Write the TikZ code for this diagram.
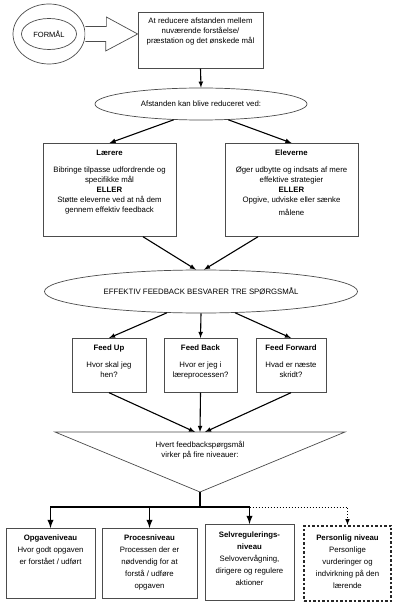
\documentclass[tikz,border=0pt]{standalone}
\usepackage{fontspec}
\setmainfont{Liberation Sans}
\usetikzlibrary{shapes.geometric,calc}

\begin{document}
\begin{tikzpicture}[x=1pt,y=-1pt,
	box/.style={draw=black!70,line width=0.7pt,align=center,inner sep=2pt,font=\fontsize{7.8}{10}\selectfont,anchor=north},
	oval/.style={ellipse,draw=black!70,line width=0.7pt,inner sep=0pt,font=\fontsize{7.8}{10}\selectfont},
	quest/.style={box,text height=37pt,text depth=13pt},
	lvl/.style={box,line width=0.9pt,font=\fontsize{7.8}{12}\selectfont},
	arr/.style={-latex,line width=1.1pt}]
	\fill[white] (0,0) rectangle (400,609);
	\useasboundingbox (0,0) rectangle (400,609);

	% formaal og maal
	\node[oval,minimum width=72pt,minimum height=60pt] (formal) at (49,34) {};
	\node[oval,minimum width=55pt,minimum height=31pt,font=\fontsize{7.5}{9}\selectfont] (formaltext) at (formal) {FORMÅL};
	\node[box,minimum width=125pt,text height=29pt,text depth=23pt] (goal) at (200.5,12) {At reducere afstanden mellem\\ nuværende forståelse/\\ præstation og det ønskede mål};
	\draw[draw=black!70,line width=0.7pt,fill=white] ($(formal.east)+(0,-7.5)$) -- ++(21,0) -- ++(0,-9.5) -- (formal.east -| goal.west) -- ++(-32,17) -- ++(0,-9.5) -- ($(formal.east)+(0,7.5)$);

	\node[oval,minimum width=212pt,minimum height=32pt] (reduce) at (201,104) {Afstanden kan blive reduceret ved:};
	\node[box,minimum width=133pt,text height=67pt,text depth=22pt] (teacher) at (109.5,143) {\textbf{Lærere}\\[7pt] Bibringe tilpasse udfordrende og\\ specifikke mål\\ \textbf{ELLER}\\ Støtte eleverne ved at nå dem\\ gennem effektiv feedback};
	\node[box,minimum width=133pt,text height=70pt,text depth=19pt] (student) at (291.5,143) {\textbf{Eleverne}\\[7pt] Øger udbytte og indsats af mere\\ effektive strategier\\ \textbf{ELLER}\\ Opgive, udviske eller sænke\\[3pt] målene};

	\node[oval,minimum width=313pt,minimum height=43pt] (feedback) at (201,291.5) {EFFEKTIV FEEDBACK BESVARER TRE SPØRGSMÅL};
	\node[quest,minimum width=74pt] (up) at (109,338) {\textbf{Feed Up}\\[7pt] Hvor skal jeg\\ hen?};
	\node[quest,minimum width=73pt] (back) at (200.5,338) {\textbf{Feed Back}\\[7pt] Hvor er jeg i\\ læreprocessen?};
	\node[quest,minimum width=70pt] (forward) at (291,338) {\textbf{Feed Forward}\\[7pt] Hvad er næste\\ skridt?};

	% trekant
	\coordinate (tl) at (55,432); \coordinate (tr) at (345,432);
	\coordinate (apex) at (200,492); \coordinate (tritop) at (200,432);
	\draw[draw=black!70,line width=0.7pt] (tl) -- (tr) -- (apex) -- cycle;
	\node[align=center,font=\fontsize{7.8}{10}\selectfont,anchor=base] (levels) at (200,457) {Hvert feedbackspørgsmål\\ virker på fire niveauer:};

	% de fire niveauer
	\node[lvl,minimum width=89pt,text height=34pt,text depth=32pt] (task) at (50.5,528) {\textbf{Opgaveniveau}\\ Hvor godt opgaven\\ er forstået / udført};
	\node[lvl,minimum width=95pt,text height=58pt,text depth=8pt] (process) at (149.5,528) {\textbf{Procesniveau}\\ Processen der er\\ nødvendig for at\\ forstå / udføre\\ opgaven};
	\node[lvl,minimum width=89pt,text height=59pt,text depth=13pt] (self) at (249.5,524) {\textbf{Selvregulerings-}\\ \textbf{niveau}\\ Selvovervågning,\\ dirigere og regulere\\ aktioner};
	\node[lvl,draw=black!85,line width=1.6pt,dash pattern=on 2.5pt off 2pt,minimum width=87pt,text height=61pt,text depth=10pt] (personal) at (347.5,525) {\textbf{Personlig niveau}\\ Personlige\\ vurderinger og\\ indvirkning på den\\ lærende};

	% pile
	\draw[arr] (goal.south) -- (reduce.north);
	\draw[arr] (reduce.210) -- (teacher.north);
	\draw[arr] (reduce.330) -- (student.north);
	\draw[arr] ($(teacher.south)!.5!(teacher.south east)$) -- ([xshift=-5pt]feedback.north);
	\draw[arr] ($(student.south)!.5!(student.south west)$) -- ([xshift=3pt]feedback.north);
	\draw[arr] (feedback.212) -- (up.north);
	\draw[arr] (feedback.south) -- (back.north);
	\draw[arr] (feedback.328) -- (forward.north);
	\draw[arr] (up.south) -- ([xshift=-5pt]tritop);
	\draw[arr] (back.south) -- (tritop);
	\draw[arr] (forward.south) -- ([xshift=5pt]tritop);

	\draw[line width=1.8pt] (apex) -- ++(0,15) coordinate (fork);
	\draw[dotted,line width=1pt,-latex] (fork -| self.north) -| (personal.north);
	\foreach \n in {task,process,self}
		\draw[line width=1.8pt,-latex] (fork) -| (\n.north);
\end{tikzpicture}
\end{document}
